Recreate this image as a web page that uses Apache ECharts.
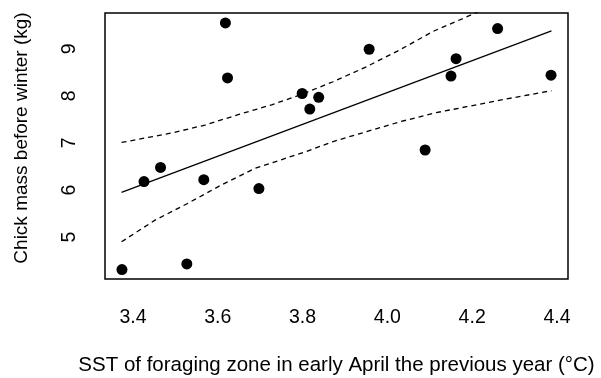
<!DOCTYPE html>
<html>
<head>
<meta charset="utf-8">
<script src="https://cdn.jsdelivr.net/npm/echarts@6/dist/echarts.min.js"></script>
<style>
  html, body { margin: 0; padding: 0; background: #fff; }
  #main { width: 601px; height: 378px; }
</style>
</head>
<body>
<div id="main"></div>
<script>
// observed points
var sst  = [3.374, 3.426, 3.465, 3.527, 3.567, 3.618, 3.623, 3.697, 3.799, 3.817, 3.838, 3.957, 4.089, 4.150, 4.162, 4.260, 4.386];
var mass = [4.31, 6.18, 6.48, 4.43, 6.22, 9.55, 8.38, 6.03, 8.05, 7.72, 7.97, 8.99, 6.85, 8.42, 8.79, 9.43, 8.44];

// fitted line and confidence band
var fitX = [3.373, 4.387];
var fitY = [5.95, 9.38];
var upperX = [3.373, 3.491, 3.570, 3.648, 3.727, 3.794, 3.872, 3.951, 4.030, 4.108, 4.203, 4.387];
var upperY = [7.01, 7.21, 7.38, 7.60, 7.81, 8.02, 8.30, 8.62, 8.98, 9.37, 9.74, 10.55];
var lowerX = [3.373, 3.452, 3.530, 3.609, 3.688, 3.806, 3.872, 3.951, 4.030, 4.108, 4.187, 4.266, 4.387];
var lowerY = [4.90, 5.36, 5.72, 6.11, 6.46, 6.81, 7.03, 7.24, 7.45, 7.63, 7.77, 7.91, 8.11];

var xTicks = [3.4, 3.6, 3.8, 4.0, 4.2, 4.4];
var yTicks = [5, 6, 7, 8, 9];

function pairs(xs, ys) {
    var out = [];
    for (var i = 0; i < xs.length; i++) {
        out.push([xs[i], ys[i]]);
    }
    return out;
}

var FONT = 'Liberation Sans, Arial, sans-serif';
var chart = echarts.init(document.getElementById('main'), null, {renderer: 'canvas'});

var option = {
    animation: false,
    backgroundColor: '#fff',
    grid: {
        left: 105, right: 33, top: 13, bottom: 99,
        outerBoundsMode: 'none',
        show: true, borderColor: '#000', borderWidth: 1.5, backgroundColor: 'transparent'
    },
    xAxis: {
        type: 'value',
        min: 3.334, max: 4.426,
        name: 'SST of foraging zone in early April the previous year (°C)',
        nameLocation: 'middle',
        nameGap: 76,
        nameTextStyle: {fontFamily: FONT, fontSize: 20.5, color: '#000'},
        axisLine: {show: false},
        axisTick: {show: false},
        splitLine: {show: false},
        axisLabel: {
            customValues: xTicks,
            margin: 29,
            fontFamily: FONT, fontSize: 19.5, color: '#000',
            formatter: function (v) { return v.toFixed(1); }
        }
    },
    yAxis: {
        type: 'value',
        min: 4.11, max: 9.76,
        name: 'Chick mass before winter (kg)',
        nameLocation: 'middle',
        nameGap: 74,
        nameTextStyle: {fontFamily: FONT, fontSize: 19, color: '#000', padding: [0, 0, 0, 16]},
        axisLine: {show: false},
        axisTick: {show: false},
        splitLine: {show: false},
        axisLabel: {
            customValues: yTicks,
            rotate: 90,
            margin: 25,
            fontFamily: FONT, fontSize: 19.5, color: '#000',
            formatter: function (v) { return String(Math.round(v)); }
        }
    },
    series: [
        {
            type: 'line', data: pairs(upperX, upperY), showSymbol: false, silent: true,
            lineStyle: {color: '#000', width: 1.3, type: [5, 4]}
        },
        {
            type: 'line', data: pairs(lowerX, lowerY), showSymbol: false, silent: true,
            lineStyle: {color: '#000', width: 1.3, type: [5, 4]}
        },
        {
            type: 'line', data: pairs(fitX, fitY), showSymbol: false, silent: true,
            lineStyle: {color: '#000', width: 1.3}
        },
        {
            type: 'scatter', data: pairs(sst, mass), symbol: 'circle', symbolSize: 11,
            itemStyle: {color: '#000', opacity: 1}
        }
    ]
};

chart.setOption(option);
</script>
</body>
</html>
